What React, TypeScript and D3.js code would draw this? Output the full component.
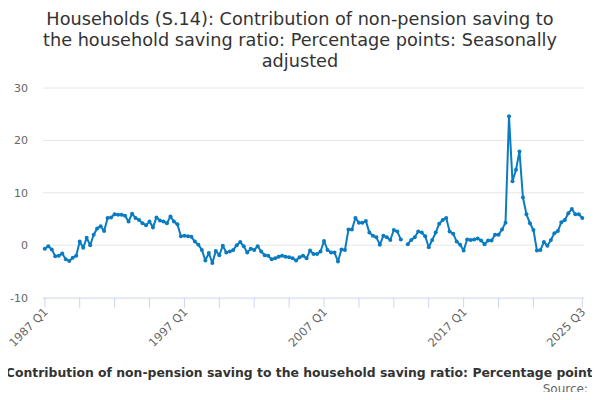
import React from 'react';
import * as d3 from 'd3';

// quarterly values, 1987 Q1 .. 2025 Q3 (null = no data)
const firstYear = 1987;

const values: (number | null)[] = [
  // 1987
  -0.7, -0.2, -0.8, -2.1,
  // 1988
  -2.0, -1.6, -2.7, -3.0,
  // 1989
  -2.4, -2.0, 0.7, -0.5,
  // 1990
  1.4, 0.0, 2.0, 3.2,
  // 1991
  3.6, 2.7, 5.2, 5.3,
  // 1992
  5.9, 5.8, 5.8, 5.6,
  // 1993
  4.5, 6.0, 5.2, 4.8,
  // 1994
  4.2, 3.8, 4.5, 3.4,
  // 1995
  5.3, 4.7, 4.5, 4.2,
  // 1996
  5.5, 4.5, 4.0, 1.7,
  // 1997
  1.8, 1.7, 1.6, 0.7,
  // 1998
  0.1, -0.9, -2.9, -1.5,
  // 1999
  -3.4, -1.1, -1.9, -0.1,
  // 2000
  -1.4, -1.2, -0.9, 0.0,
  // 2001
  0.6, -0.2, -1.4, -0.7,
  // 2002
  -0.9, -0.2, -1.2, -1.9,
  // 2003
  -2.0, -2.7, -2.5, -2.2,
  // 2004
  -2.0, -2.2, -2.3, -2.5,
  // 2005
  -2.9, -2.3, -2.0, -2.5,
  // 2006
  -1.0, -1.7, -1.7, -1.2,
  // 2007
  0.8, -0.9, -1.4, -1.4,
  // 2008
  -3.1, -0.8, -0.9, 3.0,
  // 2009
  3.0, 5.2, 4.3, 4.3,
  // 2010
  4.6, 2.4, 1.8, 1.5,
  // 2011
  0.1, 1.8, 1.5, 1.0,
  // 2012
  2.9, 2.6, 1.1, null,
  // 2013
  0.2, 1.0, 1.5, 2.6,
  // 2014
  2.4, 1.7, -0.4, 1.0,
  // 2015
  2.4, 4.1, 4.8, 5.2,
  // 2016
  2.6, 2.2, 0.7, 0.1,
  // 2017
  -1.0, 1.1, 1.0, 1.1,
  // 2018
  1.3, 0.9, 0.2, 0.9,
  // 2019
  0.9, 2.0, 2.0, 3.0,
  // 2020
  4.3, 24.6, 12.2, 14.4,
  // 2021
  17.9, 9.1, 5.9, 4.2,
  // 2022
  2.9, -1.0, -0.9, 0.6,
  // 2023
  -0.1, 1.0, 2.3, 2.7,
  // 2024
  4.4, 4.8, 6.1, 6.9,
  // 2025
  5.9, 5.9, 5.2,
];

const categories = values.map((_, i) => `${firstYear + Math.floor(i / 4)} Q${(i % 4) + 1}`);

const yTicks = [-10, 0, 10, 20, 30];
const labelledCategories = ['1987 Q1', '1997 Q1', '2007 Q1', '2017 Q1', '2025 Q3'];

const titleLines = [
  'Households (S.14): Contribution of non-pension saving to',
  'the household saving ratio: Percentage points: Seasonally',
  'adjusted',
];
const seriesName = 'Contribution of non-pension saving to the household saving ratio: Percentage points';

const LINE_COLOR = '#0a7bc1';
const FONT = '"DejaVu Sans", Verdana, sans-serif';

const App: React.FC = () => {
  const width = 600;
  const height = 400;
  const plot = { left: 43, right: 584 };

  const x = d3.scaleLinear()
    .domain([0, categories.length - 1])
    .range([44.8, 582.3]);

  const y = d3.scaleLinear()
    .domain([-10, 30])
    .range([297.6, 88]);

  const line = d3.line<number | null>()
    .defined(d => d != null)
    .x((_, i) => x(i))
    .y(d => y(d as number));

  // tick every 10 quarters, plus the last one (the one before it is dropped)
  const last = categories.length - 1;
  const tickIdx = d3.range(0, last, 10).filter(i => last - i >= 10 || i === 0).concat([last]);
  const labelIdx = labelledCategories.map(c => categories.indexOf(c));

  return (
    <svg width={width} height={height} style={{ display: 'block', margin: '-8px', fontFamily: FONT }}>
      <rect width={width} height={height} fill="#fff" />

      {titleLines.map((t, i) => (
        <text key={i} x={300} y={24.5 + i * 21.3} textAnchor="middle" fontSize={17.7} fill="#333">{t}</text>
      ))}

      {/* grid + y labels */}
      {yTicks.map(t => (
        <g key={t}>
          {t !== -10 && (
            <line x1={plot.left} x2={plot.right} y1={y(t)} y2={y(t)} stroke="#e6e6e6" strokeWidth={1} />
          )}
          <text x={28} y={y(t) + 4} textAnchor="end" fontSize={11} fill="#666">{t}</text>
        </g>
      ))}

      {/* x axis */}
      <line x1={plot.left} x2={plot.right} y1={y(-10) + 0.5} y2={y(-10) + 0.5} stroke="#ccd6eb" strokeWidth={1} />
      {tickIdx.map(i => (
        <line key={i} x1={x(i)} x2={x(i)} y1={y(-10)} y2={y(-10) + 10} stroke="#ccd6eb" strokeWidth={1} />
      ))}
      {labelIdx.map(i => (
        <text
          key={i}
          transform={`translate(${x(i) + 4},${y(-10) + 15}) rotate(-45)`}
          textAnchor="end"
          fontSize={11.5}
          fill="#666"
        >
          {categories[i]}
        </text>
      ))}

      {/* series */}
      <path d={line(values) ?? ''} fill="none" stroke={LINE_COLOR} strokeWidth={2} strokeLinejoin="round" />
      {values.map((v, i) => v == null ? null : (
        <circle key={i} cx={x(i)} cy={y(v)} r={2} fill={LINE_COLOR} />
      ))}

      <text x={303} y={377} textAnchor="middle" fontSize={12.4} fontWeight="bold" fill="#333">{seriesName}</text>
      <text x={588} y={393} textAnchor="end" fontSize={12} fill="#666">Source:</text>
    </svg>
  );
};

export default App;
